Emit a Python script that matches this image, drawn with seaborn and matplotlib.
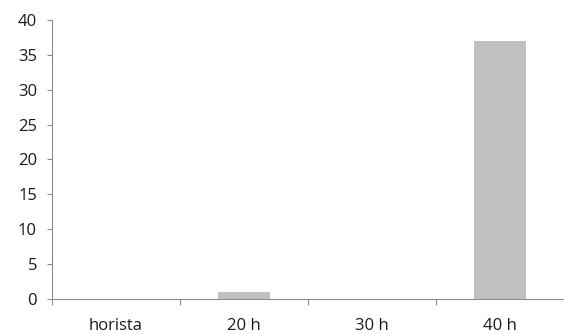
import matplotlib
matplotlib.use("Agg")
import matplotlib.pyplot as plt
import seaborn as sns
import pandas as pd
from matplotlib.ticker import FixedLocator, NullFormatter

categories = ["horista", "20 h", "30 h", "40 h"]
values = [0, 1, 0, 37]

sns.set_style("white")
plt.rcParams['font.family'] = ['Open Sans', 'DejaVu Sans']

df = pd.DataFrame({"cat": categories, "val": values})

fig = plt.figure(figsize=(5.64, 3.35), dpi=100)
ax = fig.add_axes([0.0922, 0.1074, 0.908, 0.833])
sns.barplot(data=df, x="cat", y="val", color="#c0c0c0", saturation=1, width=0.4, ax=ax, edgecolor="none")

ax.set_xlim(-0.5, 3.5)
ax.set_ylim(0, 40)
ax.set_yticks(range(0, 41, 5))
ax.set_xlabel("")
ax.set_ylabel("")
for s in ["top", "right"]:
    ax.spines[s].set_visible(False)
for s in ["left", "bottom"]:
    ax.spines[s].set_color("#8c8c8c")
    ax.spines[s].set_linewidth(0.8)

ax.xaxis.set_major_locator(FixedLocator([-0.5, 0.5, 1.5, 2.5, 3.5]))
ax.xaxis.set_major_formatter(NullFormatter())
ax.xaxis.set_minor_locator(FixedLocator([0, 1, 2, 3]))
ax.set_xticklabels(categories, minor=True)
ax.tick_params(axis="x", which="major", length=4, color="#8c8c8c", direction="out", bottom=True)
ax.tick_params(axis="x", which="minor", length=0, pad=14, labelsize=12, labelcolor="#1a1a1a", bottom=True)
ax.tick_params(axis="y", length=3.8, color="#8c8c8c", direction="out", left=True, labelsize=12, labelcolor="#1a1a1a", pad=7)

fig.savefig("out.png", dpi=100)
